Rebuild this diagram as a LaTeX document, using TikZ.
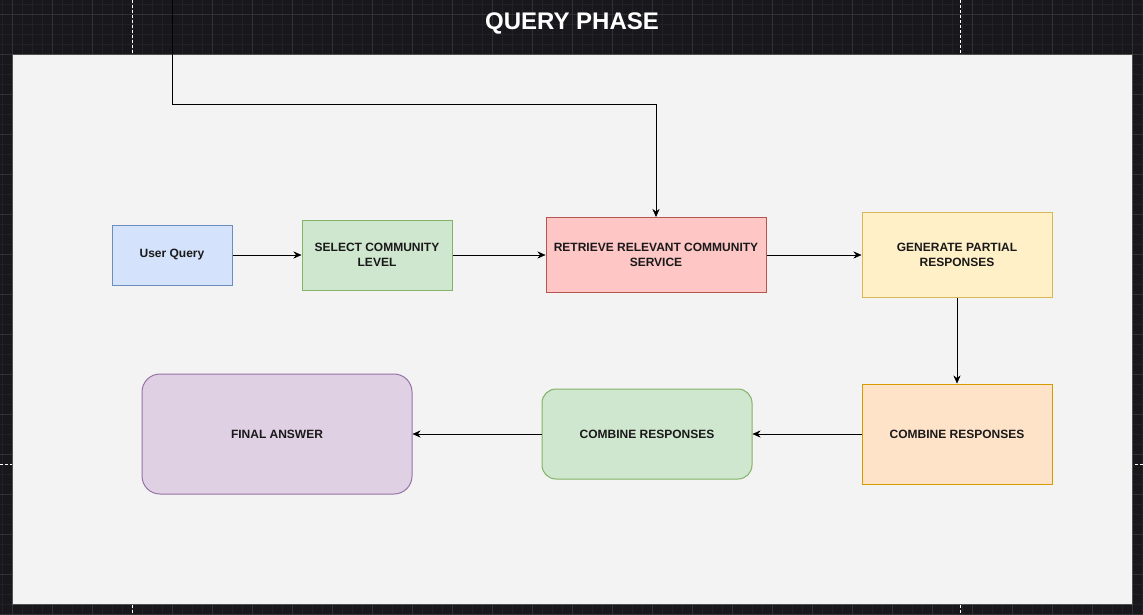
\documentclass[tikz,border=0pt]{standalone}
\usepackage{fontspec}
\setmainfont{Liberation Sans}
\usetikzlibrary{arrows.meta}

\definecolor{canvas}{HTML}{18171C}
\definecolor{gridfine}{HTML}{222126}
\definecolor{gridbold}{HTML}{323136}
\definecolor{panelfill}{HTML}{F3F3F3}
\definecolor{panelline}{HTML}{505050}
\definecolor{uqfill}{HTML}{D4E3FB}
\definecolor{uqline}{HTML}{6C8EBF}
\definecolor{slfill}{HTML}{CFE6CF}
\definecolor{slline}{HTML}{82B366}
\definecolor{rtfill}{HTML}{FFC6C6}
\definecolor{rtline}{HTML}{B85450}
\definecolor{gpfill}{HTML}{FFF0C8}
\definecolor{gpline}{HTML}{D6B656}
\definecolor{cbfill}{HTML}{FFE3C8}
\definecolor{cbline}{HTML}{D79B00}
\definecolor{fafill}{HTML}{E0D0E4}
\definecolor{faline}{HTML}{9673A6}

\begin{document}
\begin{tikzpicture}[x=1pt,y=-1pt,>={Stealth[length=8pt,width=7pt]}]
\tikzstyle{stage}=[rectangle,draw=#1line,fill=#1fill,line width=1pt,inner sep=0pt,align=center,text=black!90,font=\bfseries\fontsize{12}{14.4}\selectfont]
\tikzstyle{pagebreak}=[white!85,line width=0.8pt,dash pattern=on 3pt off 2pt]
\useasboundingbox (0,0) rectangle (1143,614);
\fill[canvas] (0,0) rectangle (1143,614);

% grid
\foreach \gx in {2,12,...,1142} \draw[gridfine,line width=0.5pt] (\gx,0) -- (\gx,614);
\foreach \gy in {4,14,...,614} \draw[gridfine,line width=0.5pt] (0,\gy) -- (1143,\gy);
\foreach \gx in {12,52,...,1132} \draw[gridbold,line width=0.8pt] (\gx,0) -- (\gx,614);
\foreach \gy in {14,54,...,614} \draw[gridbold,line width=0.8pt] (0,\gy) -- (1143,\gy);
\draw[pagebreak] (132,0) -- (132,614);
\draw[pagebreak] (960,0) -- (960,614);
\draw[pagebreak] (0,464) -- (1143,464);

\draw[draw=panelline,fill=panelfill,line width=1pt] (12,54) rectangle (1132,604);
\node[text=white,anchor=base,font=\bfseries\fontsize{24}{28}\selectfont] (title) at (572,29.3) {QUERY PHASE};

\node[stage=uq,minimum width=120pt,minimum height=60pt] (query) at (172,255) {User Query};
\node[stage=sl,minimum width=150pt,minimum height=70pt] (select) at (377,255) {SELECT COMMUNITY\\LEVEL};
\node[stage=rt,minimum width=220pt,minimum height=75pt] (retrieve) at (656,255) {RETRIEVE RELEVANT COMMUNITY\\SERVICE};
\node[stage=gp,minimum width=190pt,minimum height=85pt] (generate) at (957,255) {GENERATE PARTIAL\\RESPONSES};
\node[stage=cb,minimum width=190pt,minimum height=100pt] (combineA) at (957,434) {COMBINE RESPONSES};
\node[stage=sl,rounded corners=14pt,minimum width=210pt,minimum height=90pt] (combineB) at (647,434) {COMBINE RESPONSES};
\node[stage=fa,rounded corners=18pt,minimum width=270pt,minimum height=120pt] (final) at (277,434) {FINAL ANSWER};

\coordinate (entry) at (172,0);
\coordinate (bend) at (172,104);

\draw[->] (entry) -- (bend) -| (retrieve);
\draw[->] (query) -- (select);
\draw[->] (select) -- (retrieve);
\draw[->] (retrieve) -- (generate);
\draw[->] (generate) -- (combineA);
\draw[->] (combineA) -- (combineB);
\draw[->] (combineB) -- (final);
\end{tikzpicture}
\end{document}
